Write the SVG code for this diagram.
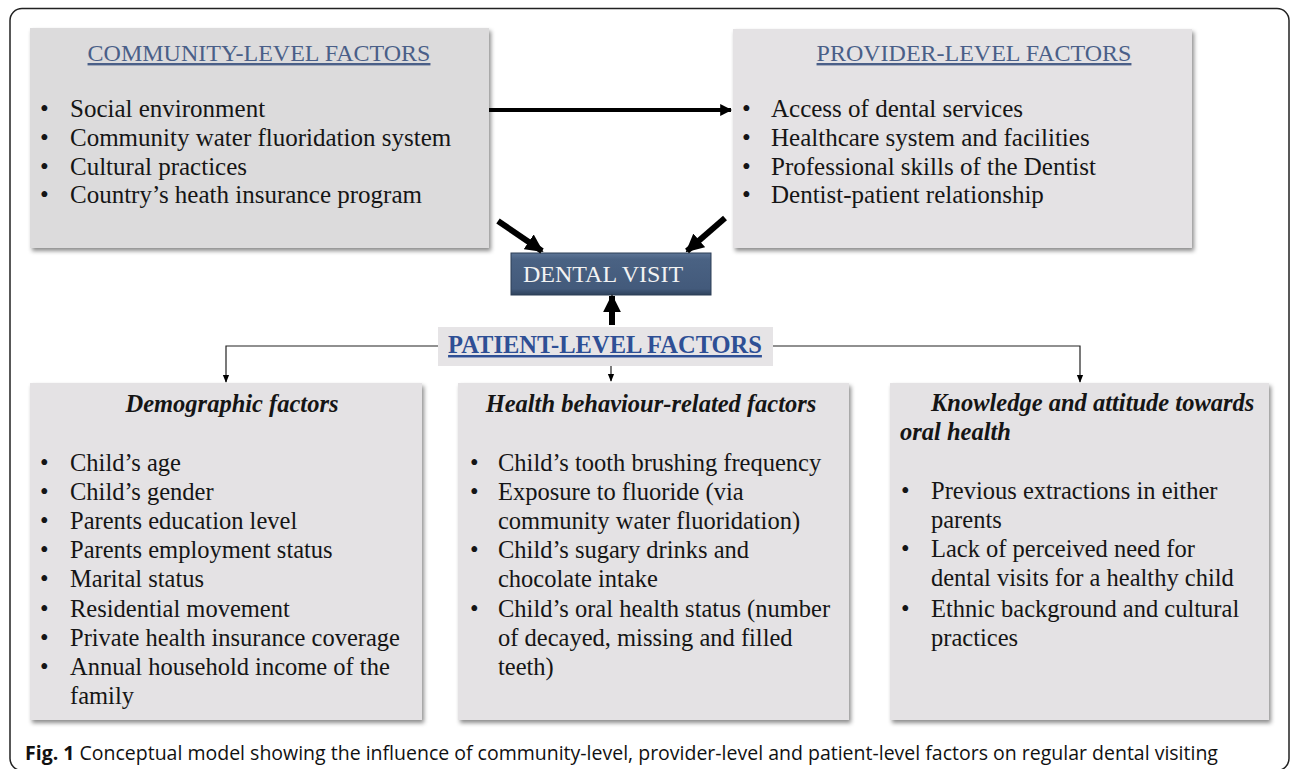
<svg xmlns="http://www.w3.org/2000/svg" width="1292" height="769" viewBox="0 0 1292 769">
<defs>
<filter id="sh" x="-5%" y="-5%" width="110%" height="115%">
<feDropShadow dx="2" dy="3" stdDeviation="2" flood-color="#000" flood-opacity="0.45"/>
</filter>
<linearGradient id="dv" x1="0" y1="0" x2="0" y2="1">
<stop offset="0" stop-color="#5d7596"/>
<stop offset="0.15" stop-color="#4a6283"/>
<stop offset="0.85" stop-color="#435a7b"/>
<stop offset="1" stop-color="#2f425c"/>
</linearGradient>
<marker id="ah" viewBox="0 0 10 10" refX="9" refY="5" markerWidth="3" markerHeight="3" orient="auto" markerUnits="strokeWidth">
<path d="M0,0 L10,5 L0,10 z" fill="#000"/>
</marker>
<marker id="as" viewBox="0 0 10 10" refX="9" refY="5" markerWidth="8" markerHeight="8" orient="auto" markerUnits="userSpaceOnUse">
<path d="M0,1 L10,5 L0,9 z" fill="#000"/>
</marker>
<style>
.box{fill:#e4e2e4;filter:url(#sh);}
.t{font-family:"Liberation Serif","Times New Roman",serif;font-size:24.5px;fill:#151515;}
.tt{font-family:"Liberation Serif","Times New Roman",serif;font-size:25px;fill:#151515;}
.hd{font-family:"Liberation Serif","Times New Roman",serif;font-size:24px;fill:#4a5f88;text-decoration:underline;}
.it{font-family:"Liberation Serif","Times New Roman",serif;font-size:24.5px;font-weight:bold;font-style:italic;fill:#151515;}
.thick{stroke:#000;fill:none;}
.thin{stroke:#222;stroke-width:1.2;fill:none;}
</style>
</defs>
<rect x="10" y="8.5" width="1279" height="762" rx="12" fill="#fff" stroke="#222" stroke-width="1.5"/>

<g id="community">
<rect class="box" x="30" y="28" width="459" height="220" style="fill:#dcdbdc"/>
<text class="hd" x="259" y="61" text-anchor="middle">COMMUNITY-LEVEL FACTORS</text>
<text class="tt" x="40" y="117">•</text><text class="tt" x="70" y="117">Social environment</text>
<text class="tt" x="40" y="146">•</text><text class="tt" x="70" y="146">Community water fluoridation system</text>
<text class="tt" x="40" y="175">•</text><text class="tt" x="70" y="175">Cultural practices</text>
<text class="tt" x="40" y="203">•</text><text class="tt" x="70" y="203">Country’s heath insurance program</text>
</g>

<g id="provider">
<rect class="box" x="733" y="29" width="459" height="219"/>
<text class="hd" x="974" y="61" text-anchor="middle">PROVIDER-LEVEL FACTORS</text>
<text class="tt" x="742" y="117">•</text><text class="tt" x="771" y="117">Access of dental services</text>
<text class="tt" x="742" y="146">•</text><text class="tt" x="771" y="146">Healthcare system and facilities</text>
<text class="tt" x="742" y="175">•</text><text class="tt" x="771" y="175">Professional skills of the Dentist</text>
<text class="tt" x="742" y="203">•</text><text class="tt" x="771" y="203">Dentist-patient relationship</text>
</g>

<g id="dental-visit">
<rect x="511" y="253" width="200" height="42" fill="url(#dv)" stroke="#2c3e57" stroke-width="1"/>
<text x="523" y="282" font-family="Liberation Serif, serif" font-size="24" fill="#f2f2f2">DENTAL VISIT</text>
</g>

<g id="patient">
<rect x="438" y="327" width="335" height="39" fill="#e6e4e6"/>
<text x="605" y="353" text-anchor="middle" font-family="Liberation Serif, serif" font-size="24.5" font-weight="bold" fill="#2e4f95" text-decoration="underline">PATIENT-LEVEL FACTORS</text>
</g>

<g id="demographic">
<rect class="box" x="30" y="383" width="392" height="337"/>
<text class="it" x="232" y="412" text-anchor="middle">Demographic factors</text>
<text class="t" x="40" y="471">•</text><text class="t" x="70" y="471">Child’s age</text>
<text class="t" x="40" y="500">•</text><text class="t" x="70" y="500">Child’s gender</text>
<text class="t" x="40" y="529">•</text><text class="t" x="70" y="529">Parents education level</text>
<text class="t" x="40" y="558">•</text><text class="t" x="70" y="558">Parents employment status</text>
<text class="t" x="40" y="587">•</text><text class="t" x="70" y="587">Marital status</text>
<text class="t" x="40" y="617">•</text><text class="t" x="70" y="617">Residential movement</text>
<text class="t" x="40" y="646">•</text><text class="t" x="70" y="646">Private health insurance coverage</text>
<text class="t" x="40" y="675">•</text><text class="t" x="70" y="675">Annual household income of the</text>
<text class="t" x="70" y="704">family</text>
</g>

<g id="health-behaviour">
<rect class="box" x="458" y="383" width="391" height="337"/>
<text class="it" x="651" y="412" text-anchor="middle">Health behaviour-related factors</text>
<text class="t" x="470" y="471">•</text><text class="t" x="498" y="471">Child’s tooth brushing frequency</text>
<text class="t" x="470" y="500">•</text><text class="t" x="498" y="500">Exposure to fluoride (via</text>
<text class="t" x="498" y="529">community water fluoridation)</text>
<text class="t" x="470" y="558">•</text><text class="t" x="498" y="558">Child’s sugary drinks and</text>
<text class="t" x="498" y="587">chocolate intake</text>
<text class="t" x="470" y="617">•</text><text class="t" x="498" y="617">Child’s oral health status (number</text>
<text class="t" x="498" y="646">of decayed, missing and filled</text>
<text class="t" x="498" y="675">teeth)</text>
</g>

<g id="knowledge">
<rect class="box" x="890" y="383" width="379" height="337"/>
<text class="it" x="931" y="411">Knowledge and attitude towards</text>
<text class="it" x="900" y="440">oral health</text>
<text class="t" x="901" y="499">•</text><text class="t" x="931" y="499">Previous extractions in either</text>
<text class="t" x="931" y="528">parents</text>
<text class="t" x="901" y="557">•</text><text class="t" x="931" y="557">Lack of perceived need for</text>
<text class="t" x="931" y="586">dental visits for a healthy child</text>
<text class="t" x="901" y="617">•</text><text class="t" x="931" y="617">Ethnic background and cultural</text>
<text class="t" x="931" y="646">practices</text>
</g>

<g id="connectors">
<line class="thick" x1="489" y1="110" x2="731" y2="110" stroke-width="4" marker-end="url(#ah)"/>
<line class="thick" x1="498" y1="221" x2="542" y2="251" stroke-width="6" marker-end="url(#ah)"/>
<line class="thick" x1="725" y1="218" x2="687" y2="251" stroke-width="6" marker-end="url(#ah)"/>
<line class="thick" x1="612" y1="325" x2="612" y2="296" stroke-width="6" marker-end="url(#ah)"/>
<polyline class="thin" points="438,346 226,346 226,382" marker-end="url(#as)"/>
<polyline class="thin" points="773,346 1080,346 1080,382" marker-end="url(#as)"/>
<line class="thin" x1="611" y1="366" x2="611" y2="381" marker-end="url(#as)"/>
</g>

<g id="caption">
<text x="25" y="760" font-family="Open Sans, Noto Sans, sans-serif" font-size="19.5" fill="#111"><tspan font-weight="bold">Fig. 1</tspan> Conceptual model showing the influence of community-level, provider-level and patient-level factors on regular dental visiting</text>
</g>
</svg>
